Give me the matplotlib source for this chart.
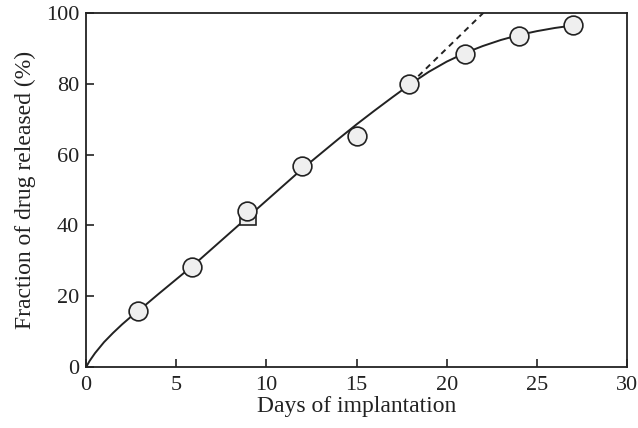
import matplotlib
matplotlib.use('Agg')
import matplotlib.pyplot as plt

# measured release (circles) and the single square point
days = [2.9, 5.9, 8.9, 12.0, 15.0, 17.9, 21.0, 24.0, 27.0]
released = [15.9, 28.3, 44.1, 56.7, 65.2, 79.9, 88.3, 93.5, 96.4]
sq_day = [9.0]
sq_released = [42.4]

# fitted curve
curve_x = [0, 0.2, 0.5, 1, 1.5, 2, 2.5, 3, 4, 5, 6, 7, 8, 9, 10, 11, 12, 13, 14,
           15, 16, 17, 18, 19, 20, 21, 22, 23, 24, 25, 26, 27]
curve_y = [0, 1.8, 4.0, 7.1, 9.7, 12.1, 14.3, 16.3, 20.6, 24.8, 29.0, 33.5, 38.0,
           42.5, 47.0, 51.5, 56.0, 60.2, 64.4, 68.5, 72.4, 76.2, 79.9, 83.3, 86.2,
           88.6, 90.6, 92.3, 93.7, 94.8, 95.7, 96.4]

# linear extrapolation (dashed)
extrap_x = [18.0, 22.04]
extrap_y = [80.0, 100.0]

plt.rcParams['font.family'] = 'Liberation Serif'
ink = '#222222'

fig = plt.figure(figsize=(6.38, 4.28), dpi=100)
ax = fig.add_axes([0.1348, 0.1418, 0.8480, 0.8285])

ax.plot(curve_x, curve_y, color=ink, lw=1.4, zorder=2)
ax.plot(extrap_x, extrap_y, color=ink, lw=1.4, ls=(0, (3, 2.5)), zorder=2)
ax.plot(sq_day, sq_released, ls='none', marker='s', ms=12, mfc='#efefef',
        mec=ink, mew=1.2, zorder=3)
ax.plot(days, released, ls='none', marker='o', ms=13.5, mfc='#efefef',
        mec=ink, mew=1.2, zorder=4)

ax.set_xlim(0, 30)
ax.set_ylim(0, 100)
ax.set_xticks([0, 5, 10, 15, 20, 25, 30])
ax.set_yticks([0, 20, 40, 60, 80, 100])
ax.tick_params(direction='in', length=6, width=1.2, color=ink, labelsize=16,
               labelcolor=ink)
ax.tick_params(axis='x', pad=6)
ax.tick_params(axis='y', pad=5)
for s in ax.spines.values():
    s.set_linewidth(1.3)
    s.set_color(ink)

ax.set_xlabel('Days of implantation', fontsize=17, color=ink, labelpad=1)
ax.set_ylabel('Fraction of drug released (%)', fontsize=17, color=ink, labelpad=7)

fig.savefig('out.png', dpi=100)
